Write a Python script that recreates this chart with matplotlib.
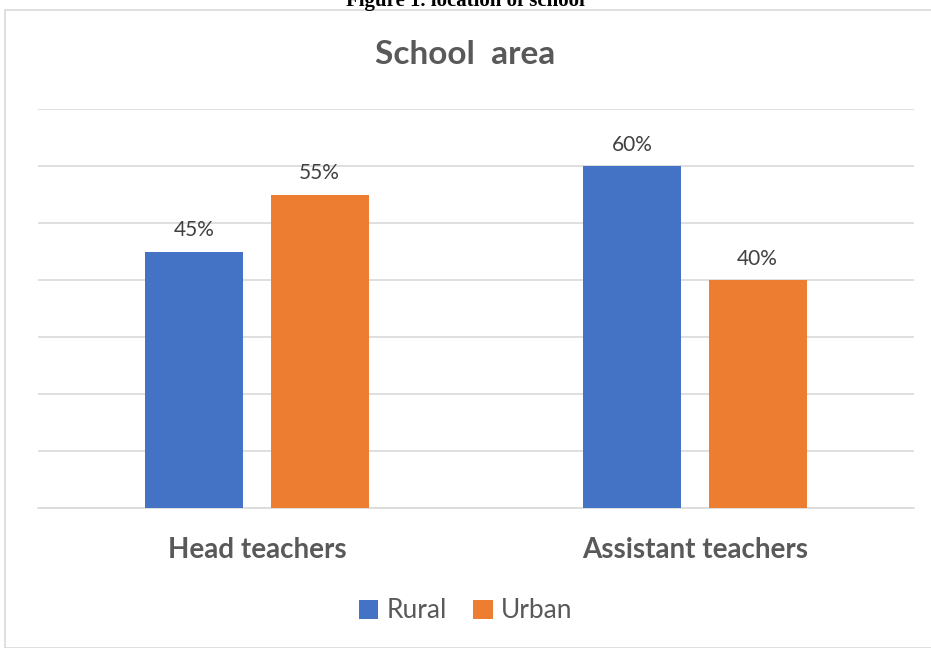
import matplotlib
matplotlib.use("Agg")
import matplotlib.pyplot as plt
from matplotlib.patches import Rectangle
import numpy as np

categories = ["Head teachers", "Assistant teachers"]
series_names = ["Rural", "Urban"]
rural = [45, 60]
urban = [55, 40]
colors = ["#4472C4", "#ED7D31"]

plt.rcParams['font.family'] = ['Lato', 'DejaVu Sans']

W, H = 931, 648
fig = plt.figure(figsize=(W/100, H/100), dpi=100)

# outer chart border
fig.patches.append(Rectangle((5/W, 0), 1.0, 1 - 10/H, transform=fig.transFigure,
                             fill=False, edgecolor="#D9D9D9", linewidth=1.2))
# partially cut caption at top (as in the reference)
fig.text(0.5, 1 - 6/H, "Figure 1. location of school", ha="center", va="baseline",
         fontsize=15, fontweight="bold", family=["Liberation Serif", "DejaVu Serif"], color="black")

ax = fig.add_axes([38/W, 140/H, (914-38)/W, (508-109)/H])
x = np.arange(len(categories))
bw = 0.224
off = 0.143
for vals, name, c, s in [(rural, "Rural", colors[0], -1), (urban, "Urban", colors[1], 1)]:
    bars = ax.bar(x + s*off, vals, width=bw, color=c, label=name, zorder=3)
    for b, v in zip(bars, vals):
        ax.text(b.get_x() + b.get_width()/2, v + 2.0, f"{v}%", ha="center", va="bottom",
                fontsize=15, color="#404040")

ax.set_xlim(-0.5, 1.5)
ax.set_ylim(0, 70)
ax.set_yticks(np.arange(0, 71, 10))
ax.yaxis.grid(True, color="#D9D9D9", linewidth=1.2, zorder=0)
ax.set_yticklabels([])
ax.tick_params(axis="y", length=0)
ax.tick_params(axis="x", length=0, pad=21)
ax.set_xticks(x)
ax.set_xticklabels(categories, fontsize=20, fontweight="bold", color="#595959")
for sp in ["top", "right", "left"]:
    ax.spines[sp].set_visible(False)
ax.spines["bottom"].set_color("#D9D9D9")
ax.spines["bottom"].set_linewidth(1.2)
ax.set_facecolor("none")

fig.text(0.5, 1 - 55/H, "School  area", ha="center", va="center", fontsize=24,
         fontweight="bold", color="#595959")

handles, labels = ax.get_legend_handles_labels()
fig.legend(handles, labels, loc="center", bbox_to_anchor=(0.5, 1 - 611/H), ncol=2,
           frameon=False, fontsize=19, handlelength=0.75, handleheight=0.75,
           handletextpad=0.3, columnspacing=1.0, labelcolor="#595959")

fig.savefig("out.png", dpi=100)
